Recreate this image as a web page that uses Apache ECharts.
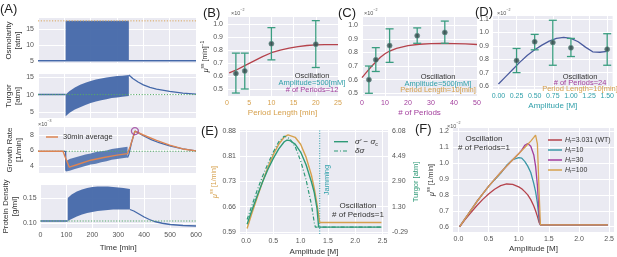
<!DOCTYPE html>
<html>
<head>
<meta charset="utf-8">
<script src="https://cdn.jsdelivr.net/npm/echarts@6/dist/echarts.min.js"></script>
<style>
  html, body { margin: 0; padding: 0; background: #fff; }
  #chart { width: 617px; height: 257px; }
</style>
</head>
<body>
<div id="chart"></div>
<script>
// ---------- data ----------
// (A) time course
const timeTicks = [0, 100, 200, 300, 400, 500, 600];

const osmoLineT = [0, 600];
const osmoLine = [5, 5];
const osmoBandT = [105, 345];
const osmoBandLow = [5, 5];
const osmoBandHigh = [17.5, 17.5];
const osmoRef = 17.5;

const turgorPreT = [0, 105];
const turgorPre = [10, 10];
const turgorBandT = [105, 120, 140, 160, 180, 200, 220, 240, 260, 280, 300, 320, 345];
const turgorBandLow = [3.8, 4.8, 5.7, 6.4, 7.0, 7.6, 8.0, 8.4, 8.7, 9.0, 9.2, 9.4, 9.6];
const turgorBandHigh = [10.0, 11.0, 12.0, 12.8, 13.4, 13.9, 14.3, 14.6, 14.9, 15.1, 15.3, 15.4, 15.6];
const turgorPostT = [345, 360, 380, 400, 425, 450, 500, 550, 600];
const turgorPost = [15.6, 14.6, 13.6, 12.8, 12.1, 11.6, 10.9, 10.4, 10.15];
const turgorRef = 10;

const growthPreT = [0, 105, 106];
const growthPre = [5.9, 5.9, 3.4];
const growthBandT = [106, 120, 140, 160, 180, 200, 220, 240, 260, 280, 300, 320, 340];
const growthBandLow = [3.3, 3.4, 3.6, 3.8, 4.0, 4.2, 4.3, 4.5, 4.6, 4.8, 4.9, 5.0, 5.1];
const growthBandHigh = [4.6, 4.9, 5.1, 5.3, 5.5, 5.6, 5.8, 5.9, 6.0, 6.2, 6.3, 6.4, 6.5];
const growthPostT = [340, 345, 355, 368, 380, 400, 430, 460, 500, 550, 600];
const growthPost = [5.1, 5.5, 7.0, 8.5, 8.3, 7.9, 7.4, 7.0, 6.6, 6.2, 5.95];
const avgT = [0, 95, 105, 119, 150, 200, 250, 300, 340, 350, 368, 400, 450, 500, 550, 600];
const avgGrowth = [5.9, 5.9, 5.0, 3.85, 4.2, 4.75, 5.1, 5.4, 5.6, 6.5, 8.5, 8.0, 7.3, 6.7, 6.2, 5.95];
const growthPeak = [368, 8.5];
const growthRef = 5.9;

const proteinPreT = [0, 105];
const proteinPre = [0.104, 0.104];
const proteinBandT = [105, 120, 140, 160, 180, 200, 220, 240, 260, 280, 300, 320, 345];
const proteinBandLow = [0.104, 0.108, 0.113, 0.117, 0.120, 0.122, 0.124, 0.125, 0.126, 0.127, 0.127, 0.127, 0.127];
const proteinBandHigh = [0.150, 0.157, 0.163, 0.167, 0.170, 0.172, 0.173, 0.173, 0.173, 0.172, 0.171, 0.170, 0.168];
const proteinPostT = [345, 360, 380, 400, 420, 440, 470, 500, 550, 600];
const proteinPost = [0.127, 0.124, 0.118, 0.112, 0.107, 0.103, 0.0995, 0.097, 0.095, 0.094];
const proteinRef = 0.104;

// (B) period length
const periodLen = [2, 4, 10, 20];
const periodMu = [0.62, 0.64, 0.85, 0.846];
const periodLow = [0.469, 0.50, 0.725, 0.666];
const periodHigh = [0.777, 0.777, 0.974, 1.028];
const periodFitX = [0.5, 2, 4, 6, 8, 10, 12, 14, 16, 18, 20, 22, 25];
const periodFit = [0.625, 0.645, 0.68, 0.715, 0.75, 0.78, 0.80, 0.815, 0.828, 0.836, 0.84, 0.842, 0.843];

// (C) number of periods
const nPeriods = [3, 6, 12, 24, 36];
const nPeriodsMu = [0.60, 0.746, 0.85, 0.923, 0.947];
const nPeriodsLow = [0.50, 0.66, 0.727, 0.867, 0.867];
const nPeriodsHigh = [0.70, 0.835, 0.973, 0.98, 1.03];
const nFitX = [0, 2, 4, 6, 8, 10, 12, 15, 20, 25, 30, 35, 40, 45, 50];
const nFit = [0.615, 0.655, 0.695, 0.73, 0.765, 0.79, 0.81, 0.83, 0.85, 0.86, 0.865, 0.866, 0.865, 0.862, 0.858];

// (D) amplitude
const ampD = [0.25, 0.5, 0.75, 1.0, 1.5];
const ampDMu = [0.79, 0.93, 0.925, 0.885, 0.875];
const ampDLow = [0.70, 0.87, 0.755, 0.82, 0.755];
const ampDHigh = [0.88, 0.985, 1.09, 0.955, 0.99];
const ampFitX = [0, 0.1, 0.2, 0.3, 0.4, 0.5, 0.6, 0.7, 0.8, 0.9, 1.0, 1.1, 1.2, 1.3, 1.4, 1.5];
const ampFit = [0.615, 0.67, 0.725, 0.78, 0.83, 0.87, 0.905, 0.935, 0.955, 0.962, 0.955, 0.93, 0.89, 0.855, 0.852, 0.858];

// (E) single period
const ampE = [0.02, 0.1, 0.2, 0.3, 0.4, 0.5, 0.6, 0.7, 0.77, 0.9, 1.0, 1.1, 1.2, 1.25, 1.3, 1.35, 2.48];
const muE = [0.600, 0.640, 0.687, 0.733, 0.775, 0.812, 0.842, 0.863, 0.869, 0.862, 0.842, 0.805, 0.752, 0.715, 0.670, 0.617, 0.617];
const ampSolid = [0.02, 0.1, 0.2, 0.3, 0.4, 0.5, 0.6, 0.7, 0.75, 0.8, 0.9, 1.0, 1.1, 1.2, 1.25, 1.3, 1.33, 2.48];
const turgorSolid = [0.2, 1.0, 1.95, 2.85, 3.65, 4.35, 4.95, 5.4, 5.5, 5.48, 5.25, 4.75, 3.95, 2.85, 2.2, 1.2, 0.02, 0.02];
const ampDash = [0.02, 0.1, 0.2, 0.3, 0.4, 0.5, 0.6, 0.7, 0.8, 0.9, 1.0, 1.1, 1.2, 1.25, 1.27, 2.48];
const turgorDash = [0.5, 1.3, 2.3, 3.2, 4.0, 4.75, 5.4, 5.75, 5.6, 5.1, 4.2, 3.0, 1.4, 0.3, 0.02, 0.02];
const jammingAmp = 1.35;

// (F) Hill coefficient
const ampF = [0.02, 0.1, 0.2, 0.3, 0.4, 0.5, 0.6, 0.7, 0.8, 0.9, 1.0, 1.05, 1.1, 1.15, 1.2, 1.25, 1.28, 1.31, 1.34, 1.36, 2.48];
const muWT = [0.60, 0.64, 0.685, 0.73, 0.77, 0.805, 0.835, 0.858, 0.868, 0.865, 0.85, 0.838, 0.82, 0.80, 0.77, 0.73, 0.70, 0.665, 0.625, 0.612, 0.612];
const muH10 = [0.60, 0.645, 0.70, 0.755, 0.805, 0.853, 0.895, 0.935, 0.985, 1.02, 1.033, 1.03, 1.01, 0.98, 0.94, 0.87, 0.82, 0.75, 0.64, 0.612, 0.612];
const muH30 = [0.60, 0.645, 0.70, 0.755, 0.805, 0.853, 0.897, 0.94, 0.98, 1.02, 1.058, 1.08, 1.11, 1.122, 1.105, 1.05, 0.98, 0.86, 0.67, 0.612, 0.612];
const muH100 = [0.60, 0.645, 0.70, 0.755, 0.805, 0.853, 0.897, 0.94, 0.98, 1.02, 1.058, 1.077, 1.097, 1.117, 1.137, 1.16, 1.175, 1.12, 0.80, 0.612, 0.612];
const hillLabels = ['3.031 (WT)', '10', '30', '100'];

// ---------- style ----------
const FONT = '"Liberation Sans", Arial, sans-serif';
const BG = '#eaeaf2';
const TICK = '#555';
const DARK = '#333';
const BLUE = '#4468a9';
const ORANGE = '#dd8452';
const GREEN = '#55a868';
const TEAL = '#2f9fa9';
const PURPLE = '#a23d9c';
const TAN = '#d6a04c';
const RED = '#b5424b';
const ERR = '#3a9d80';
const SEA = '#2f9a77';
const NAVY = '#4a5b9e';

const zip = (xs, ys) => xs.map((x, i) => [x, ys[i]]);

function grid(left, top, width, height) {
  return { left, top, width, height, show: true, backgroundColor: BG, borderWidth: 0, containLabel: false };
}

function axis(gridIndex, min, max, ticks, fmt, extra) {
  return Object.assign({
    type: 'value', gridIndex, min, max,
    axisLine: { show: false },
    axisTick: { show: false, customValues: ticks },
    axisLabel: { customValues: ticks, fontSize: 7, color: TICK, fontFamily: FONT, margin: 4, formatter: fmt },
    splitLine: { show: true, lineStyle: { color: '#fff', width: 1 } },
  }, extra || {});
}

function line(xi, yi, xs, ys, color, width, type, z) {
  return {
    type: 'line', xAxisIndex: xi, yAxisIndex: yi, data: zip(xs, ys), symbol: 'none',
    lineStyle: { color, width, type: type || 'solid' }, z: z || 3, silent: true,
  };
}

function band(xi, yi, xs, lo, hi, color, opacity) {
  return {
    type: 'custom', xAxisIndex: xi, yAxisIndex: yi, silent: true, z: 2,
    data: [[xs[0], lo[0]]],
    renderItem: (params, api) => {
      const top = xs.map((x, i) => api.coord([x, hi[i]]));
      const bot = xs.map((x, i) => api.coord([x, lo[i]])).reverse();
      return { type: 'polygon', shape: { points: top.concat(bot) }, style: { fill: color, opacity } };
    },
  };
}

function errorBars(xi, yi, xs, lows, highs, color) {
  return {
    type: 'custom', xAxisIndex: xi, yAxisIndex: yi, silent: true, z: 4,
    data: xs.map((x, i) => [x, lows[i], highs[i]]),
    renderItem: (params, api) => {
      const x = api.value(0);
      const a = api.coord([x, api.value(1)]);
      const b = api.coord([x, api.value(2)]);
      const w = 4;
      const st = { stroke: color, lineWidth: 1.3 };
      return {
        type: 'group', children: [
          { type: 'line', shape: { x1: a[0], y1: a[1], x2: b[0], y2: b[1] }, style: st },
          { type: 'line', shape: { x1: a[0] - w, y1: a[1], x2: a[0] + w, y2: a[1] }, style: st },
          { type: 'line', shape: { x1: b[0] - w, y1: b[1], x2: b[0] + w, y2: b[1] }, style: st },
        ],
      };
    },
  };
}

function points(xi, yi, xs, ys) {
  return {
    type: 'scatter', xAxisIndex: xi, yAxisIndex: yi, data: zip(xs, ys), symbolSize: 5, z: 5, silent: true,
    itemStyle: { color: '#33474a', borderColor: '#5f8f86', borderWidth: 0.8 },
  };
}

const rich = {
  i: { fontStyle: 'italic', verticalAlign: 'bottom' },
  n: { verticalAlign: 'bottom' },
  sup: { fontSize: 5, verticalAlign: 'bottom', padding: [0, 0, 4, 0] },
  sub: { fontSize: 5, verticalAlign: 'bottom', padding: [0, 0, -1, 0] },
};

function txt(x, y, text, o) {
  o = o || {};
  const size = o.size || 7.5;
  const st = {
    text, fill: o.color || DARK, font: `${o.italic ? 'italic ' : ''}${size}px ${FONT}`,
    textAlign: o.align || 'left', textVerticalAlign: 'middle', align: o.align || 'left', verticalAlign: 'middle',
  };
  if (o.rich) {
    st.rich = {};
    for (const k in rich) st.rich[k] = Object.assign({ fill: o.color || DARK, fontSize: size, fontFamily: FONT }, rich[k]);
    st.rich.sup.fontSize = size * 0.65;
    st.rich.sub.fontSize = size * 0.65;
  }
  return { type: 'text', x, y, rotation: o.rot || 0, silent: true, z: 100, style: st };
}

function hline(x1, x2, y, color, width, dash) {
  return { type: 'line', silent: true, z: 100, shape: { x1, y1: y, x2, y2: y }, style: { stroke: color, lineWidth: width, lineDash: dash || null } };
}

const f0 = v => String(Math.round(v));
const f1 = v => v.toFixed(1);
const f2 = v => v.toFixed(2);

const nameStyle = { fontSize: 8, color: DARK, fontFamily: FONT, lineHeight: 9 };

// ---------- grids / axes ----------
const grids = [
  grid(38, 18, 158, 45),   // A1
  grid(38, 74, 158, 44),   // A2
  grid(38, 127, 158, 46),  // A3
  grid(38, 185, 158, 43),  // A4
  grid(227, 17, 111, 79),  // B
  grid(362, 17, 115, 79),  // C
  grid(493, 16, 124, 73),  // D
  grid(240, 130, 148, 106),// E
  grid(453, 128, 162, 104),// F
];

const hiddenX = { axisLabel: { show: false, customValues: timeTicks } };
const xAxes = [
  axis(0, 0, 600, timeTicks, f0, hiddenX),
  axis(1, 0, 600, timeTicks, f0, hiddenX),
  axis(2, 0, 600, timeTicks, f0, hiddenX),
  axis(3, 0, 600, timeTicks, f0, { name: 'Time [min]', nameLocation: 'middle', nameGap: 15, nameTextStyle: nameStyle }),
  axis(4, 0, 25, [0, 5, 10, 15, 20, 25], f0, {
    name: 'Period Length [min]', nameLocation: 'middle', nameGap: 12, nameTextStyle: Object.assign({}, nameStyle, { color: TAN }),
  }),
  axis(5, 0, 50, [0, 10, 20, 30, 40, 50], f0, {
    name: '# of Periods', nameLocation: 'middle', nameGap: 12, nameTextStyle: Object.assign({}, nameStyle, { color: PURPLE }),
  }),
  axis(6, -0.075, 1.575, [0, 0.25, 0.5, 0.75, 1.0, 1.25, 1.5], f2, {
    name: 'Amplitude [M]', nameLocation: 'middle', nameGap: 12, nameTextStyle: Object.assign({}, nameStyle, { color: TEAL }),
  }),
  axis(7, -0.11, 2.6, [0, 0.5, 1.0, 1.5, 2.0, 2.5], f1, { name: 'Amplitude [M]', nameLocation: 'middle', nameGap: 13, nameTextStyle: nameStyle }),
  axis(8, -0.09, 2.58, [0, 0.5, 1.0, 1.5, 2.0, 2.5], f1, { name: 'Amplitude [M]', nameLocation: 'middle', nameGap: 11, nameTextStyle: nameStyle }),
];
// tick label colours for B, C, D
xAxes[4].axisLabel.color = TAN;
xAxes[5].axisLabel.color = PURPLE;
xAxes[6].axisLabel.color = TEAL;

const muName = '{i|μ}{sup|ss} [1/min]';
function richName(color) {
  const r = {};
  for (const k in rich) r[k] = Object.assign({ color, fontSize: 7, fontFamily: FONT }, rich[k]);
  r.sup.fontSize = 5; r.sub.fontSize = 5;
  return r;
}

const yAxes = [
  axis(0, 4.3, 18.4, [5, 10, 15], f0, { name: 'Osmolarity\n[atm]', nameLocation: 'middle', nameGap: 15, nameRotate: 90, nameTextStyle: nameStyle }),
  axis(1, 3.3, 15.9, [5, 10, 15], f0, { name: 'Turgor\n[atm]', nameLocation: 'middle', nameGap: 15, nameRotate: 90, nameTextStyle: nameStyle }),
  axis(2, 3.1, 9.03, [4, 6, 8], f0, { name: 'Growth Rate\n[1/min]', nameLocation: 'middle', nameGap: 15, nameRotate: 90, nameTextStyle: nameStyle }),
  axis(3, 0.09, 0.176, [0.10, 0.15], f2, { name: 'Protein Density\n[g/ml]', nameLocation: 'middle', nameGap: 19, nameRotate: 90, nameTextStyle: nameStyle }),
  axis(4, 0.446, 1.056, [0.5, 0.6, 0.7, 0.8, 0.9, 1.0], f1, {
    name: '{i|μ}{sup|ss} [min]{sup|−1}', nameLocation: 'middle', nameGap: 13, nameRotate: 90,
    nameTextStyle: { fontSize: 7, color: DARK, fontFamily: FONT, rich: richName(DARK) },
  }),
  axis(5, 0.48, 1.06, [0.5, 0.6, 0.7, 0.8, 0.9, 1.0], f1),
  axis(6, 0.578, 1.122, [0.6, 0.7, 0.8, 0.9, 1.0, 1.1], f1),
  axis(7, 0.584, 0.883, [0.59, 0.6625, 0.735, 0.8075, 0.88], f2, {
    name: muName, nameLocation: 'middle', nameGap: 18, nameRotate: 90,
    nameTextStyle: { fontSize: 7, color: TAN, fontFamily: FONT, rich: richName(TAN) },
  }),
  axis(8, 0.567, 1.219, [0.6, 0.7, 0.8, 0.9, 1.0, 1.1, 1.2], f1, {
    name: muName, nameLocation: 'middle', nameGap: 14, nameRotate: 90,
    nameTextStyle: { fontSize: 7, color: DARK, fontFamily: FONT, rich: richName(DARK) },
  }),
  axis(7, -0.414, 6.14, [-0.29, 1.3025, 2.895, 4.4875, 6.08], f2, {
    position: 'right', splitLine: { show: false },
    name: 'Turgor [atm]', nameLocation: 'middle', nameGap: 24, nameRotate: 90,
    nameTextStyle: { fontSize: 7.5, color: SEA, fontFamily: FONT },
  }),
];
yAxes[9].axisLabel.formatter = v => (Math.round(v * 100) / 100).toFixed(2);

// ---------- series ----------
const series = [
  // A1 osmolarity
  line(0, 0, [0, 600], [osmoRef, osmoRef], '#d9a45a', 1, [1.2, 1.6], 3),
  band(0, 0, osmoBandT, osmoBandLow, osmoBandHigh, BLUE, 0.95),
  line(0, 0, osmoLineT, osmoLine, BLUE, 1.5),
  // A2 turgor
  band(1, 1, turgorBandT, turgorBandLow, turgorBandHigh, BLUE, 0.95),
  line(1, 1, turgorPreT, turgorPre, BLUE, 1.5),
  line(1, 1, turgorPostT, turgorPost, BLUE, 1.3),
  line(1, 1, [0, 600], [turgorRef, turgorRef], GREEN, 1, [1.2, 1.6], 4),
  // A3 growth
  band(2, 2, growthBandT, growthBandLow, growthBandHigh, BLUE, 0.85),
  line(2, 2, growthPreT, growthPre, BLUE, 1.3),
  line(2, 2, growthPostT, growthPost, BLUE, 1.3),
  line(2, 2, [0, 600], [growthRef, growthRef], GREEN, 1, [1.2, 1.6], 4),
  line(2, 2, avgT, avgGrowth, ORANGE, 1.4, 'solid', 5),
  {
    type: 'scatter', xAxisIndex: 2, yAxisIndex: 2, data: [growthPeak], symbolSize: 7, z: 6, silent: true,
    itemStyle: { color: 'rgba(0,0,0,0)', borderColor: '#9c3f9a', borderWidth: 1.3 },
  },
  // A4 protein density
  band(3, 3, proteinBandT, proteinBandLow, proteinBandHigh, BLUE, 0.95),
  line(3, 3, proteinPreT, proteinPre, BLUE, 1.5),
  line(3, 3, proteinPostT, proteinPost, BLUE, 1.3),
  line(3, 3, [0, 600], [proteinRef, proteinRef], GREEN, 1, [1.2, 1.6], 4),
  // B
  line(4, 4, periodFitX, periodFit, RED, 1.3, 'solid', 3),
  errorBars(4, 4, periodLen, periodLow, periodHigh, ERR),
  points(4, 4, periodLen, periodMu),
  // C
  line(5, 5, nFitX, nFit, RED, 1.3, 'solid', 3),
  errorBars(5, 5, nPeriods, nPeriodsLow, nPeriodsHigh, ERR),
  points(5, 5, nPeriods, nPeriodsMu),
  // D
  line(6, 6, ampFitX, ampFit, NAVY, 1.3, 'solid', 3),
  errorBars(6, 6, ampD, ampDLow, ampDHigh, ERR),
  points(6, 6, ampD, ampDMu),
  // E
  line(7, 7, ampE, muE, TAN, 1.4, 'solid', 4),
  line(7, 9, ampSolid, turgorSolid, SEA, 1.4, 'solid', 4),
  line(7, 9, ampDash, turgorDash, SEA, 1.2, [4, 2, 1, 2], 4),
  line(7, 9, [jammingAmp, jammingAmp], [-0.414, 6.14], TEAL, 1, [1, 1.5], 3),
  // F
  line(8, 8, ampF, muWT, RED, 1.3, 'solid', 4),
  line(8, 8, ampF, muH10, '#3a97a6', 1.3, 'solid', 4),
  line(8, 8, ampF, muH30, PURPLE, 1.3, 'solid', 4),
  line(8, 8, ampF, muH100, TAN, 1.3, 'solid', 4),
];

// ---------- annotations ----------
const graphic = [
  txt(0, 9, '(A)', { size: 13, color: '#222' }),
  txt(203, 13, '(B)', { size: 13, color: '#222' }),
  txt(338, 13, '(C)', { size: 13, color: '#222' }),
  txt(475, 12, '(D)', { size: 13, color: '#222' }),
  txt(201, 131, '(E)', { size: 13, color: '#222' }),
  txt(415, 129, '(F)', { size: 13, color: '#222' }),

  txt(38, 123, '{n|×10}{sup|−3}', { size: 5.5, color: TICK, rich: true }),
  txt(231, 12, '{n|×10}{sup|−2}', { size: 5.5, color: TICK, rich: true }),
  txt(364, 12, '{n|×10}{sup|−2}', { size: 5.5, color: TICK, rich: true }),
  txt(497, 12, '{n|×10}{sup|−2}', { size: 5.5, color: TICK, rich: true }),
  txt(447, 125, '{n|×10}{sup|−2}', { size: 5.5, color: TICK, rich: true }),

  // A3 legend
  hline(46, 58, 137, ORANGE, 1.5),
  txt(63, 137, '30min average', { size: 7.5 }),

  // B/C/D notes
  txt(312, 76, 'Oscillation', { align: 'center' }),
  txt(312, 83, 'Amplitude=500[mM]', { align: 'center', color: TEAL }),
  txt(312, 90, '# of Periods=12', { align: 'center', color: PURPLE }),

  txt(438, 77, 'Oscillation', { align: 'center' }),
  txt(438, 83.5, 'Amplitude=500[mM]', { align: 'center', color: TEAL }),
  txt(438, 90, 'Period Length=10[min]', { align: 'center', color: TAN }),

  txt(580, 76.7, 'Oscillation', { align: 'center' }),
  txt(580, 82.9, '# of Periods=24', { align: 'center', color: PURPLE }),
  txt(580, 89.3, 'Period Length=10[min]', { align: 'center', color: TAN }),

  // E notes
  txt(358, 206, 'Oscillation', { align: 'center', size: 8 }),
  txt(358, 214.3, '# of Periods=1', { align: 'center', size: 8 }),
  txt(327, 180, 'Jamming', { align: 'center', color: TEAL, rot: Math.PI / 2 }),
  hline(334, 348, 141.7, SEA, 1.4),
  txt(355, 141.7, "{i|σ′} {n|−} {i|σ}{sub|c}", { size: 8, rich: true }),
  hline(334, 348, 151, SEA, 1.2, [4, 2, 1, 2]),
  txt(355, 151, '{i|δσ}', { size: 8, rich: true }),

  // F notes
  txt(484, 139, 'Oscillation', { align: 'center', size: 8 }),
  txt(484, 148, '# of Periods=1', { align: 'center', size: 8 }),
];
const hillColors = [RED, '#3a97a6', PURPLE, TAN];
hillLabels.forEach((lab, i) => {
  const y = 140 + i * 10;
  graphic.push(hline(548, 562, y, hillColors[i], 1.5));
  graphic.push(txt(565, y, `{i|H}{sub|r}{n|=${lab}}`, { size: 7, rich: true }));
});

const chart = echarts.init(document.getElementById('chart'));
chart.setOption({
  animation: false,
  textStyle: { fontFamily: FONT },
  grid: grids,
  xAxis: xAxes,
  yAxis: yAxes,
  series,
  graphic,
});
</script>
</body>
</html>
